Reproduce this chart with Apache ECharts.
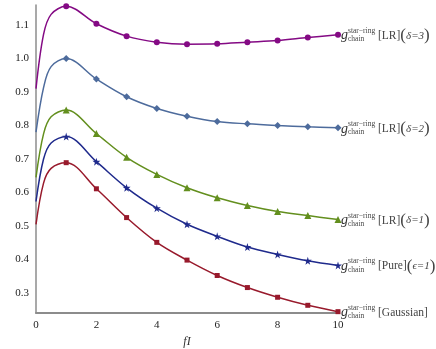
<!DOCTYPE html>
<html>
<head>
<meta charset="utf-8">
<script src="https://cdn.jsdelivr.net/npm/echarts@6/dist/echarts.min.js"></script>
<style>
  html, body { margin: 0; padding: 0; background: #fff; }
  #chart { width: 436px; height: 349px; }
</style>
</head>
<body>
<div id="chart"></div>
<script>
// fI values: steep start (no markers) and the marked points
const fiLead = [0, 0.25, 0.5];
const fiMarks = [1, 2, 3, 4, 5, 6, 7, 8, 9, 10];

// star-ring / chain ratio curves
const leadLR3 = [0.91, 1.072, 1.132];
const valLR3 = [1.156, 1.104, 1.067, 1.049, 1.043, 1.044, 1.049, 1.054, 1.063, 1.071];
const leadLR2 = [0.78, 0.913, 0.976];
const valLR2 = [1.0, 0.939, 0.886, 0.851, 0.828, 0.812, 0.805, 0.8, 0.796, 0.793];
const leadLR1 = [0.645, 0.775, 0.826];
const valLR1 = [0.846, 0.776, 0.705, 0.654, 0.614, 0.584, 0.561, 0.543, 0.531, 0.519];
const leadPure = [0.573, 0.7, 0.748];
const valPure = [0.767, 0.692, 0.614, 0.553, 0.505, 0.469, 0.437, 0.415, 0.396, 0.382];
const leadGauss = [0.505, 0.628, 0.672];
const valGauss = [0.689, 0.611, 0.525, 0.451, 0.398, 0.352, 0.316, 0.287, 0.263, 0.244];

const yTicks = [0.3, 0.4, 0.5, 0.6, 0.7, 0.8, 0.9, 1.0, 1.1];

const STAR = "path://M50,0 L61,35 L98,35 L68,57 L79,91 L50,70 L21,91 L32,57 L2,35 L39,35 Z";

const curves = [
  { lead: leadLR3, vals: valLR3, color: "#840a84", symbol: "circle", size: 6, tail: "[LR]", greek: "δ=3" },
  { lead: leadLR2, vals: valLR2, color: "#4d6b9c", symbol: "diamond", size: 7, tail: "[LR]", greek: "δ=2" },
  { lead: leadLR1, vals: valLR1, color: "#638f1e", symbol: "triangle", size: 7, tail: "[LR]", greek: "δ=1" },
  { lead: leadPure, vals: valPure, color: "#1f2a8c", symbol: STAR, size: 8, tail: "[Pure]", greek: "ϵ=1" },
  { lead: leadGauss, vals: valGauss, color: "#981a2c", symbol: "rect", size: 5, tail: "[Gaussian]", greek: null }
];

const serif = "'Liberation Serif', 'DejaVu Serif', serif";

const buildSeries = (c) => {
  const data = [];
  fiLead.forEach((x, i) => data.push({ value: [x, c.lead[i]], symbol: "none" }));
  fiMarks.forEach((x, i) => data.push([x, c.vals[i]]));
  const last = [fiMarks[fiMarks.length - 1], c.vals[c.vals.length - 1]];

  let main = "{g|g}{sp|}{t|" + c.tail + "}";
  if (c.greek) main += "{p|(}{d|" + c.greek + "}{p|)}";

  return {
    type: "line",
    data: data,
    smooth: 0.35,
    symbol: c.symbol,
    symbolSize: c.size,
    showAllSymbol: true,
    lineStyle: { color: c.color, width: 1.5 },
    itemStyle: { color: c.color },
    z: 3,
    markPoint: {
      symbol: "circle",
      symbolSize: 0,
      silent: true,
      data: [
        {
          coord: last,
          label: {
            show: true,
            position: "right",
            distance: 0,
            offset: [3, 1],
            formatter: main,
            rich: {
              g: { fontFamily: serif, fontStyle: "italic", fontSize: 14, color: "#333" },
              sp: { width: 30 },
              t: { fontFamily: serif, fontSize: 11.5, color: "#444" },
              p: { fontFamily: serif, fontSize: 17, color: "#444" },
              d: { fontFamily: serif, fontStyle: "italic", fontSize: 11, color: "#444" }
            }
          }
        },
        {
          coord: last,
          label: {
            show: true,
            position: "right",
            distance: 0,
            offset: [10, 0],
            formatter: "{s|star−ring}\n{c|chain}",
            rich: {
              s: { fontFamily: serif, fontSize: 7.5, color: "#444", lineHeight: 8 },
              c: { fontFamily: serif, fontSize: 7.5, color: "#444", lineHeight: 8, padding: [1, 0, 0, 0] }
            }
          }
        }
      ]
    }
  };
};

const myChart = echarts.init(document.getElementById("chart"), null, { renderer: "canvas" });

myChart.setOption({
  animation: false,
  backgroundColor: "#fff",
  grid: { left: 36, right: 98, top: 5, bottom: 36, outerBoundsMode: "none" },
  xAxis: {
    type: "value",
    min: 0,
    max: 10,
    interval: 2,
    name: "fI",
    nameLocation: "middle",
    nameGap: 17,
    nameTextStyle: { fontFamily: serif, fontStyle: "italic", fontSize: 12, color: "#333" },
    axisLine: { lineStyle: { color: "#8c8c8c", width: 2 } },
    axisTick: { show: false },
    splitLine: { show: false },
    axisLabel: { fontFamily: serif, fontSize: 11, color: "#222", margin: 7 }
  },
  yAxis: {
    type: "value",
    min: 0.24,
    max: 1.16,
    axisLine: { show: true, lineStyle: { color: "#8c8c8c", width: 1.5 } },
    axisTick: { show: false },
    splitLine: { show: false },
    axisLabel: {
      fontFamily: serif,
      fontSize: 11,
      color: "#222",
      margin: 7,
      customValues: yTicks,
      formatter: (v) => v.toFixed(1)
    }
  },
  series: curves.map(buildSeries)
});
</script>
</body>
</html>
